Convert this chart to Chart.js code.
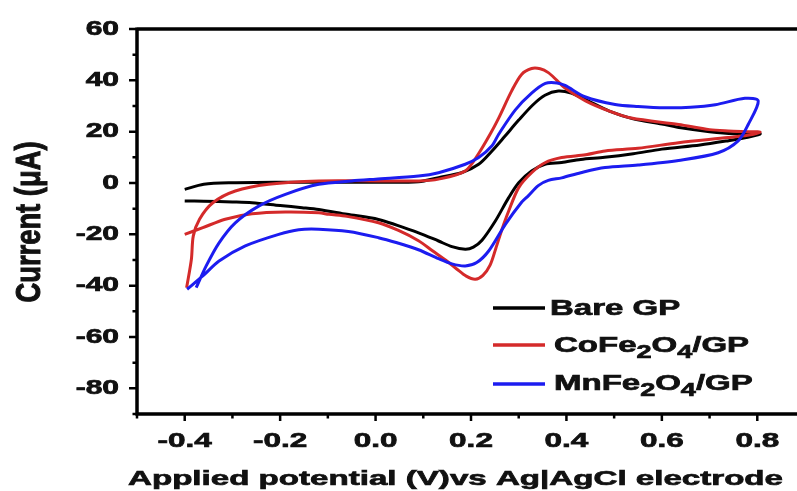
<!DOCTYPE html>
<html>
<head>
<meta charset="utf-8">
<script src="https://cdn.jsdelivr.net/npm/chart.js@4.4.1/dist/chart.umd.min.js"></script>
<style>
  html, body { margin: 0; padding: 0; background: #fff; }
  #clip { width: 797px; height: 491px; overflow: hidden; position: relative; }
  #wrap { width: 830px; height: 491px; position: absolute; left: 0; top: 0; }
</style>
</head>
<body>
<div id="clip"><div id="wrap"><canvas id="c"></canvas></div></div>
<script>
// ---------------- data ----------------
const seriesNames = ['Bare GP', 'CoFe\u2082O\u2084/GP', 'MnFe\u2082O\u2084/GP'];
const seriesColors = ['#000000', '#d42a2a', '#1c1cf0'];

const bareX = [-0.40,-0.36,-0.30,-0.20,-0.10,0.00,0.09,0.132,0.18,0.216,0.244,0.27,0.30,0.33,0.355,0.383,0.41,0.44,0.49,0.54,0.60,0.64,0.70,0.75,0.806,
               0.78,0.74,0.68,0.60,0.54,0.48,0.43,0.39,0.355,0.327,0.30,0.279,0.251,0.223,0.205,0.188,0.16,0.132,0.09,0.006,-0.06,-0.119,-0.154,-0.20,-0.259,-0.30,-0.36,-0.40];
const bareY = [-2.5,-0.5,0.1,0.3,0.3,0.3,0.5,2.1,4.0,7.3,12.5,18.0,24.5,30.5,34.2,35.8,35.0,32.5,28.0,25.0,23.0,21.5,20.0,19.2,19.2,
               17.8,16.5,14.8,13.2,11.4,10.0,9.2,8.0,7.3,4.7,0.1,-5.7,-14.8,-22.3,-25.0,-25.8,-24.8,-22.6,-19.4,-14.2,-12.2,-10.3,-9.6,-8.8,-7.7,-7.4,-7.1,-7.0];

const coX = [-0.396,-0.386,-0.382,-0.369,-0.341,-0.294,-0.224,-0.119,0.00,0.09,0.132,0.188,0.216,0.24,0.258,0.285,0.306,0.327,0.345,0.362,0.38,0.397,0.44,0.49,0.536,0.635,0.70,0.739,0.78,0.806,
             0.78,0.739,0.635,0.55,0.481,0.44,0.39,0.355,0.327,0.30,0.279,0.265,0.252,0.24,0.225,0.209,0.19,0.17,0.15,0.12,0.09,0.048,0.006,-0.06,-0.098,-0.119,-0.189,-0.259,-0.315,-0.362,-0.40];
const coY = [-40.8,-29.7,-20.6,-14.1,-7.7,-3.1,-0.5,0.8,0.8,0.8,1.5,4.7,11.5,19.0,25.3,35.8,42.3,44.6,44.5,43.0,40.0,37.0,32.0,28.0,25.3,22.8,20.8,20.3,20.0,19.8,
             18.6,17.7,15.7,13.5,12.5,11.0,9.9,7.9,4.0,-1.8,-10.9,-18.0,-25.5,-32.0,-36.0,-37.5,-36.3,-33.5,-30.5,-26.5,-22.5,-18.5,-15.5,-13.0,-12.2,-11.6,-11.3,-12.0,-14.1,-17.4,-20.0];

const mnX = [-0.376,-0.355,-0.328,-0.294,-0.245,-0.189,-0.119,-0.05,0.00,0.09,0.132,0.188,0.216,0.244,0.258,0.293,0.327,0.356,0.38,0.397,0.44,0.502,0.55,0.607,0.66,0.712,0.774,0.802,
             0.781,0.76,0.718,0.635,0.55,0.481,0.43,0.39,0.362,0.341,0.32,0.306,0.272,0.237,0.212,0.188,0.16,0.132,0.09,0.045,0.006,-0.057,-0.119,-0.161,-0.203,-0.273,-0.328,-0.362,-0.395];
const mnY = [-40.8,-32.3,-23.3,-15.5,-9.0,-4.4,-0.5,0.8,1.5,2.7,4.0,7.3,9.9,14.5,19.0,28.5,35.0,38.8,39.0,38.0,33.5,30.6,29.8,29.3,29.5,30.5,33.0,32.0,
             22.8,16.4,11.8,8.8,7.0,6.0,4.0,2.0,1.0,-1.0,-5.0,-7.5,-16.1,-26.5,-31.0,-32.3,-31.5,-29.5,-26.0,-23.3,-21.3,-18.9,-18.0,-18.2,-20.0,-24.5,-30.4,-36.2,-41.4];

const xTickValues = [-0.4,-0.2,0.0,0.2,0.4,0.6,0.8];
const xTickLabels = ['-0.4','-0.2','0.0','0.2','0.4','0.6','0.8'];
const xMinorValues = [-0.5,-0.3,-0.1,0.1,0.3,0.5,0.7,0.9];
const yTickValues = [60,40,20,0,-20,-40,-60,-80];
const yTickLabels = ['60','40','20','0','-20','-40','-60','-80'];
const yMinorValues = [50,30,10,-10,-30,-50,-70,-90];

const xTitle = 'Applied potential (V)vs Ag|AgCl electrode';
const yTitle = 'Current (\u03bcA)';

// ---------------- drawing helpers ----------------
const FONT = '"Liberation Sans", Arial, sans-serif';
const SX = 1.5; // horizontal stretch of the reference text
const HEAVY = 0.7; // extra stroke to mimic the heavy type

function stretched(ctx, text, x, y, align, size, sx) {
  ctx.save();
  ctx.font = 'bold ' + size + 'px ' + FONT;
  const w = ctx.measureText(text).width * sx;
  const left = align === 'center' ? x - w / 2 : (align === 'right' ? x - w : x);
  ctx.translate(left, y);
  ctx.scale(sx, 1);
  ctx.textAlign = 'left';
  ctx.fillText(text, 0, 0);
  ctx.lineWidth = HEAVY;
  ctx.strokeStyle = ctx.fillStyle;
  ctx.strokeText(text, 0, 0);
  ctx.restore();
  return w;
}

function richLabel(ctx, label, x, y, size) {
  const subMap = {'\u2082': '2', '\u2084': '4'};
  let cx = x, buf = '';
  const flush = () => { if (buf) { cx += stretched(ctx, buf, cx, y, 'left', size, SX); buf = ''; } };
  for (const ch of label) {
    if (subMap[ch]) {
      flush();
      cx += stretched(ctx, subMap[ch], cx, y + 6, 'left', size * 0.82, SX);
    } else buf += ch;
  }
  flush();
}

const framePlugin = {
  id: 'frame',
  afterDraw(chart) {
    const ctx = chart.ctx;
    const xs = chart.scales.x, ys = chart.scales.y;
    const a = chart.chartArea;
    ctx.save();
    ctx.strokeStyle = '#000';
    ctx.fillStyle = '#000';
    ctx.lineCap = 'butt';
    ctx.lineWidth = 3.5;
    ctx.beginPath();
    ctx.moveTo(a.left, a.top); ctx.lineTo(a.right + 40, a.top);
    ctx.moveTo(a.left, a.top - 1.5); ctx.lineTo(a.left, a.bottom + 1.5);
    ctx.moveTo(a.left - 1.5, a.bottom); ctx.lineTo(a.right + 40, a.bottom);
    ctx.stroke();
    ctx.lineWidth = 2.5;
    ctx.beginPath();
    xTickValues.forEach(v => { const px = xs.getPixelForValue(v); ctx.moveTo(px, a.bottom); ctx.lineTo(px, a.bottom + 7); });
    xMinorValues.forEach(v => { const px = xs.getPixelForValue(v); ctx.moveTo(px, a.bottom); ctx.lineTo(px, a.bottom + 4.5); });
    yTickValues.forEach(v => { const py = ys.getPixelForValue(v); ctx.moveTo(a.left, py); ctx.lineTo(a.left - 8, py); });
    yMinorValues.forEach(v => { const py = ys.getPixelForValue(v); ctx.moveTo(a.left, py); ctx.lineTo(a.left - 4.5, py); });
    ctx.stroke();
    ctx.fillStyle = '#111';
    ctx.textBaseline = 'middle';
    yTickValues.forEach((v, i) => stretched(ctx, yTickLabels[i], a.left - 18, ys.getPixelForValue(v), 'right', 20, SX));
    ctx.textBaseline = 'alphabetic';
    xTickValues.forEach((v, i) => stretched(ctx, xTickLabels[i], xs.getPixelForValue(v), 447, 'center', 21, SX));
    ctx.font = 'bold 21px ' + FONT;
    const xw = ctx.measureText(xTitle).width;
    stretched(ctx, xTitle, 455.5, 485, 'center', 21, 655 / xw);
    ctx.save();
    ctx.font = 'bold 23px ' + FONT;
    const yw = ctx.measureText(yTitle).width;
    ctx.translate(30, 222);
    ctx.scale(SX, 161 / yw);
    ctx.rotate(-Math.PI / 2);
    ctx.textAlign = 'center';
    ctx.textBaseline = 'middle';
    ctx.fillText(yTitle, 0, 0);
    ctx.lineWidth = HEAVY;
    ctx.strokeStyle = ctx.fillStyle;
    ctx.strokeText(yTitle, 0, 0);
    ctx.restore();
    const legY = [308, 345, 384];
    const legBase = [315, 352, 390];
    const legTextX = [550, 554, 554];
    seriesNames.forEach((name, i) => {
      ctx.strokeStyle = seriesColors[i];
      ctx.lineWidth = 3.5;
      ctx.beginPath(); ctx.moveTo(493, legY[i]); ctx.lineTo(545, legY[i]); ctx.stroke();
      ctx.fillStyle = '#111';
      richLabel(ctx, name, legTextX[i], legBase[i], 22);
    });
    ctx.restore();
  }
};

function pts(xa, ya) { return xa.map((x, i) => ({x: x, y: ya[i]})); }

const datasets = [
  {label: seriesNames[2], data: pts(mnX, mnY), borderColor: seriesColors[2]},
  {label: seriesNames[1], data: pts(coX, coY), borderColor: seriesColors[1]},
  {label: seriesNames[0], data: pts(bareX, bareY), borderColor: seriesColors[0]}
].map(d => Object.assign(d, {showLine: true, pointRadius: 0, borderWidth: 3, tension: 0.3, fill: false}));

new Chart(document.getElementById('c'), {
  type: 'scatter',
  data: {datasets},
  options: {
    responsive: true,
    maintainAspectRatio: false,
    animation: false,
    layout: {padding: {left: 137, top: 29, right: 25, bottom: 77}},
    plugins: {legend: {display: false}, tooltip: {enabled: false}},
    scales: {
      x: {type: 'linear', min: -0.5, max: 0.9, display: true,
          grid: {display: false}, ticks: {display: false}, border: {display: false},
          afterFit: s => { s.height = 0; }},
      y: {type: 'linear', min: -90, max: 60, display: true,
          grid: {display: false}, ticks: {display: false}, border: {display: false},
          afterFit: s => { s.width = 0; }}
    }
  },
  plugins: [framePlugin]
});
</script>
</body>
</html>
